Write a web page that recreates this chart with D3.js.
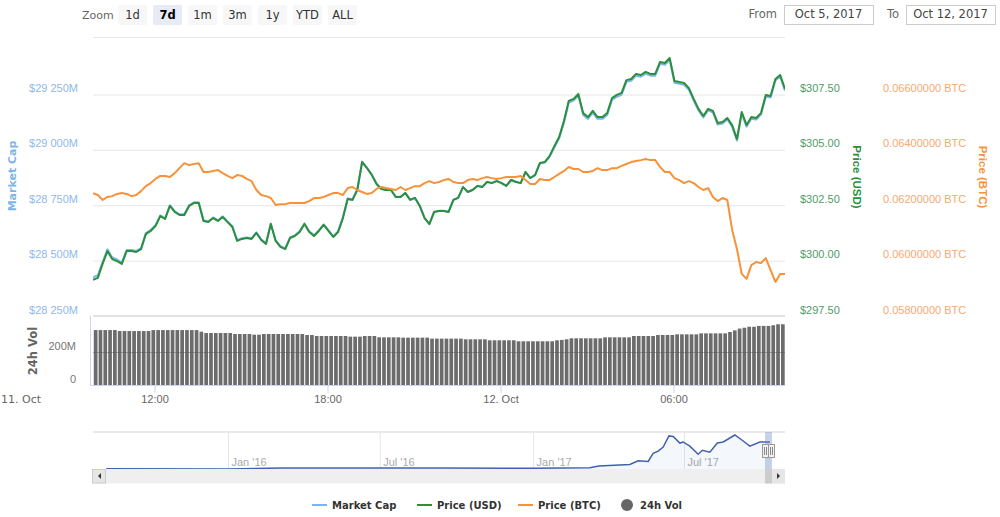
<!DOCTYPE html>
<html>
<head>
<meta charset="utf-8">
<style>
  html, body { margin: 0; padding: 0; background: #fff; }
  svg { display: block; font-family: "DejaVu Sans", sans-serif; }
  .domain { display: none; }
</style>
<script src="https://d3js.org/d3.v7.min.js"></script>
</head>
<body>
<svg id="chart" width="1000" height="517"></svg>
<script>
// values, one point every 10 minutes
const priceUsd = [
  299.13,299.22,299.85,300.43,300.07,299.98,299.85,300.43,300.43,300.39,
  300.52,301.20,301.34,301.56,302.01,301.88,302.47,302.20,302.06,302.06,
  302.47,302.60,302.60,301.79,301.74,301.92,301.79,301.97,301.74,301.52,
  300.89,300.98,301.02,300.98,301.25,300.93,300.75,301.65,300.89,300.62,
  300.52,301.02,301.11,301.29,301.65,301.29,301.11,301.34,301.61,301.34,
  301.07,301.29,301.92,302.78,302.74,303.19,304.45,304.18,303.87,303.46,
  303.23,303.19,303.19,302.87,302.87,303.05,302.74,302.83,302.47,301.92,
  301.65,302.20,302.24,302.24,302.20,302.74,302.83,303.32,303.10,303.19,
  303.37,303.32,303.55,303.50,303.59,303.50,303.37,303.64,303.55,303.50,
  304.00,303.73,303.87,304.41,304.45,304.72,305.17,305.58,306.30,307.21,
  307.30,307.52,306.66,306.48,306.76,306.48,306.48,306.66,307.34,307.48,
  307.57,308.15,308.20,308.43,308.38,308.52,308.43,308.43,308.97,308.92,
  309.15,308.11,308.06,308.02,307.79,307.30,306.85,306.53,306.85,306.76,
  306.21,306.26,306.44,306.12,305.49,306.71,306.12,306.48,306.44,306.66,
  307.48,307.43,308.20,308.38,307.75
];
const marketCap = [
  28425,28434,28493,28551,28514,28505,28491,28548,28548,28544,
  28556,28624,28638,28660,28704,28691,28750,28723,28709,28709,
  28750,28763,28763,28682,28677,28695,28682,28700,28677,28655,
  28592,28601,28605,28601,28628,28596,28578,28668,28592,28565,
  28555,28605,28614,28632,28668,28632,28614,28637,28664,28637,
  28610,28632,28695,28781,28777,28821,28947,28920,28889,28848,
  28824,28820,28820,28788,28788,28806,28775,28784,28748,28693,
  28666,28721,28725,28725,28721,28775,28784,28833,28811,28820,
  28838,28833,28856,28851,28860,28851,28838,28865,28856,28851,
  28901,28872,28885,28939,28943,28969,29011,29052,29123,29214,
  29223,29244,29158,29140,29168,29140,29140,29158,29226,29240,
  29249,29307,29312,29335,29330,29344,29335,29335,29389,29384,
  29407,29303,29298,29294,29271,29222,29178,29146,29178,29169,
  29114,29119,29137,29105,29042,29164,29105,29141,29137,29159,
  29241,29236,29313,29331,29267
];
const priceBtc = [
  .06244,.06237,.06219,.06230,.06233,.06241,.06244,.06241,.06233,.06237,
  .06251,.06269,.06280,.06295,.06306,.06306,.06302,.06316,.06334,.06352,
  .06345,.06349,.06352,.06320,.06320,.06324,.06327,.06316,.06306,.06298,
  .06309,.06306,.06295,.06287,.06255,.06237,.06233,.06226,.06201,.06204,
  .06204,.06208,.06208,.06208,.06208,.06215,.06226,.06226,.06230,.06237,
  .06244,.06244,.06237,.06262,.06266,.06255,.06248,.06241,.06244,.06259,
  .06266,.06262,.06259,.06255,.06266,.06255,.06262,.06269,.06269,.06280,
  .06287,.06280,.06284,.06291,.06295,.06284,.06280,.06280,.06291,.06295,
  .06291,.06298,.06302,.06298,.06295,.06298,.06302,.06302,.06302,.06306,
  .06291,.06277,.06277,.06295,.06291,.06291,.06302,.06313,.06324,.06338,
  .06331,.06331,.06320,.06320,.06324,.06334,.06327,.06327,.06334,.06334,
  .06342,.06349,.06356,.06360,.06363,.06367,.06363,.06363,.06338,.06320,
  .06320,.06298,.06291,.06280,.06287,.06280,.06266,.06255,.06262,.06230,
  .06215,.06226,.06219,.06111,.06042,.05952,.05934,.05984,.05995,.05991,
  .06009,.05966,.05923,.05952,.05952
];
const volume24h = [
  333,333,333,333,333,327,327,327,327,327,
  327,327,333,333,333,333,333,333,333,333,
  333,333,323,315,315,315,315,315,315,309,
  309,309,309,305,305,309,309,309,309,309,
  309,309,309,309,303,303,297,297,297,297,
  297,297,297,293,293,293,297,297,297,289,
  289,289,289,289,287,287,287,287,287,287,
  281,281,281,281,281,281,281,277,277,277,
  277,277,271,271,271,271,271,271,265,265,
  265,265,265,265,265,265,271,273,277,283,
  283,283,283,283,283,283,289,289,289,289,
  289,289,297,297,297,297,297,303,303,303,
  303,307,307,307,307,307,313,313,313,313,
  313,313,321,331,342,347,353,353,358,358,
  358,362,368,368,368
];

const navDates = [
  "2015-08-08","2016-01-01","2016-03-05","2016-07-01","2016-09-10","2017-01-01",
  "2017-03-10","2017-03-21","2017-04-27","2017-05-07","2017-05-19","2017-05-25",
  "2017-05-31","2017-06-06","2017-06-13","2017-06-18","2017-06-26","2017-06-30",
  "2017-07-08","2017-07-18","2017-07-23","2017-08-01","2017-08-10","2017-08-17",
  "2017-08-31","2017-09-10","2017-09-18","2017-09-30","2017-10-12"
];
const navCap = [
  0.3,0.1,1.0,1.0,1.0,0.8,
  1.5,3.4,5.1,9.1,8.5,17.6,
  19.9,24.5,37,36.4,29,30.2,
  25.6,16.5,21,18.8,29,30.2,
  38,31.3,25.6,30.2,30.2
];

const capTicks = [28250, 28500, 28750, 29000, 29250];
const usdTicks = [297.5, 300, 302.5, 305, 307.5];
const btcTicks = [0.058, 0.06, 0.062, 0.064, 0.066];
const volTicks = [0, 200];
const timeTicks = ["2017-10-11T12:00Z", "2017-10-11T18:00Z", "2017-10-12T00:00Z", "2017-10-12T06:00Z"];
const navTicks = ["2016-01-01", "2016-07-01", "2017-01-01", "2017-07-01"];
const zoomLabels = ["1d", "7d", "1m", "3m", "1y", "YTD", "ALL"];
const legendLabels = ["Market Cap", "Price (USD)", "Price (BTC)", "24h Vol"];

const colors = { cap: "#7cb5ec", usd: "#2b8f3c", btc: "#f7923a", vol: "#666666", grid: "#e6e6e6" };

const left = 93, right = 785, mainTop = 37.5, mainBottom = 316, volBottom = 385;

const svg = d3.select("#chart");

const startTime = Date.UTC(2017, 9, 11, 9, 52);
const times = priceUsd.map((d, i) => new Date(startTime + i * 600000));

const x = d3.scaleUtc().domain([times[0], times[times.length - 1]]).range([left, right]);

// all three share the same tick rows, so each scale is pinned to its own ticks
const yCap = d3.scaleLinear().domain([28250, 29250]).range([mainBottom, 94.5]);
const yUsd = d3.scaleLinear().domain([297.5, 307.5]).range([mainBottom, 94.5]);
const yBtc = d3.scaleLinear().domain([0.058, 0.066]).range([mainBottom, 94.5]);
const yVol = d3.scaleLinear().domain([0, 200]).range([volBottom, 352]);

svg.append("defs").append("clipPath").attr("id", "plot")
  .append("rect").attr("x", left).attr("y", 30).attr("width", right - left).attr("height", 360);

// grid + left axis
const capAxis = svg.append("g")
  .attr("transform", `translate(${left},0)`)
  .call(d3.axisLeft(yCap).tickValues(capTicks).tickSize(-(right - left)).tickPadding(15)
    .tickFormat((d) => "$" + d3.format("d")(d).replace(/(\d{2})(\d{3})/, "$1 $2") + "M"));
capAxis.selectAll("line").attr("stroke", colors.grid);
capAxis.selectAll("text").attr("fill", "#8fb8e8").attr("font-size", 11).attr("y", -6.5).attr("dy", "0.32em");

svg.append("line").attr("x1", left).attr("x2", right).attr("y1", mainTop).attr("y2", mainTop).attr("stroke", colors.grid);
svg.append("line").attr("x1", left).attr("x2", right).attr("y1", mainBottom).attr("y2", mainBottom)
  .attr("stroke", "#e2e2e2").attr("stroke-width", 2);

// right axes, labels only
const usdAxis = svg.append("g")
  .attr("transform", "translate(800,0)")
  .call(d3.axisRight(yUsd).tickValues(usdTicks).tickSize(0).tickPadding(0).tickFormat((d) => "$" + d3.format(".2f")(d)));
usdAxis.selectAll("text").attr("fill", "#4f9d68").attr("font-size", 11).attr("y", -6.5).attr("dy", "0.32em");

const btcAxis = svg.append("g")
  .attr("transform", "translate(883,0)")
  .call(d3.axisRight(yBtc).tickValues(btcTicks).tickSize(0).tickPadding(0).tickFormat((d) => d3.format(".8f")(d) + " BTC"));
btcAxis.selectAll("text").attr("fill", "#f8a873").attr("font-size", 11).attr("y", -6.5).attr("dy", "0.32em");

// volume
svg.append("line").attr("x1", 90.5).attr("x2", 90.5).attr("y1", mainBottom).attr("y2", volBottom).attr("stroke", "#ccd6eb");

svg.append("g").attr("clip-path", "url(#plot)")
  .selectAll("rect").data(volume24h).join("rect")
  .attr("x", (d, i) => x(times[i]) + 0.8)
  .attr("width", 3.7)
  .attr("y", (d) => yVol(d))
  .attr("height", (d) => volBottom - yVol(d))
  .attr("fill", colors.vol)
  .attr("fill-opacity", 0.96);

// axis goes after the bars, the 200M line shows through them
const volAxis = svg.append("g")
  .attr("transform", `translate(${left},0)`)
  .call(d3.axisLeft(yVol).tickValues(volTicks).tickSize(-(right - left)).tickPadding(17).tickFormat((d) => (d ? d + "M" : "0")));
volAxis.selectAll("line").attr("stroke", "#555").attr("stroke-opacity", 0.45);
volAxis.selectAll("text").attr("fill", "#777").attr("font-size", 11).attr("y", -6).attr("dy", "0.32em");

// time axis
const timeAxis = svg.append("g")
  .attr("transform", `translate(0,${volBottom})`)
  .call(d3.axisBottom(x).tickValues(timeTicks.map((d) => new Date(d))).tickSize(8).tickPadding(2)
    .tickFormat((d) => (d.getUTCHours() === 0 ? d3.utcFormat("%-d. %b")(d) : d3.utcFormat("%H:%M")(d))));
timeAxis.selectAll("line").attr("stroke", "#ccd6eb");
timeAxis.selectAll("text").attr("fill", "#666").attr("font-size", 11);
svg.append("line").attr("x1", 90).attr("x2", right).attr("y1", volBottom + 0.5).attr("y2", volBottom + 0.5).attr("stroke", "#ccd6eb");
svg.append("text").attr("x", 1).attr("y", 403).attr("fill", "#666").attr("font-size", 11).text("11. Oct");

// lines
const lineOf = (scale) => d3.line().x((d, i) => x(times[i])).y((d) => scale(d));
const plot = svg.append("g").attr("clip-path", "url(#plot)").attr("fill", "none").attr("stroke-width", 2).attr("stroke-linejoin", "round");
plot.append("path").datum(marketCap).attr("stroke", colors.cap).attr("d", lineOf(yCap));
plot.append("path").datum(priceUsd).attr("stroke", colors.usd).attr("d", lineOf(yUsd));
plot.append("path").datum(priceBtc).attr("stroke", colors.btc).attr("d", lineOf(yBtc));

// axis titles
const rotated = (tx, ty, angle, label, color, font, size) =>
  svg.append("text").attr("transform", `translate(${tx},${ty}) rotate(${angle})`)
    .attr("text-anchor", "middle").attr("font-family", font).attr("font-size", size).attr("font-weight", "bold").attr("fill", color).text(label);
rotated(16, 176, -90, "Market Cap", "#7cb5ec", "DejaVu Sans", 11);
rotated(37, 351, -90, "24h Vol", "#666", "DejaVu Sans", 11.5);
rotated(853, 177, 90, "Price (USD)", colors.usd, "Liberation Sans", 11.5);
rotated(979, 177, 90, "Price (BTC)", colors.btc, "Liberation Sans", 11.5);

// range selector
svg.append("text").attr("x", 82).attr("y", 19).attr("font-size", 11).attr("fill", "#666").text("Zoom");
const btn = svg.append("g").selectAll("g").data(zoomLabels).join("g")
  .attr("transform", (d, i) => `translate(${118 + i * 35},5)`);
btn.append("rect").attr("width", 29).attr("height", 20).attr("rx", 2)
  .attr("fill", (d) => (d === "7d" ? "#e6ebf5" : "#f7f7f7"));
btn.append("text").attr("x", 14.5).attr("y", 14).attr("text-anchor", "middle").attr("font-size", 11.5)
  .attr("font-weight", (d) => (d === "7d" ? "bold" : "normal"))
  .attr("fill", (d) => (d === "7d" ? "#000" : "#333")).text((d) => d);

const dateBox = (bx, w, label, value) => {
  svg.append("text").attr("x", bx - 7).attr("y", 18).attr("text-anchor", "end").attr("font-size", 11.5).attr("fill", "#666").text(label);
  svg.append("rect").attr("x", bx + 0.5).attr("y", 5.5).attr("width", w).attr("height", 19).attr("fill", "#fff").attr("stroke", "#ccc");
  svg.append("text").attr("x", bx + w / 2).attr("y", 18).attr("text-anchor", "middle").attr("font-size", 11.5).attr("fill", "#444").text(value);
};
dateBox(784, 89, "From", "Oct 5, 2017");
dateBox(906, 89, "To", "Oct 12, 2017");

// navigator
const navTop = 432, navBottom = 469;
const navX = d3.scaleUtc().domain([new Date("2016-01-01"), new Date("2017-07-01")]).range([228, 684]);
const navY = d3.scaleLinear().domain([0, 38]).range([469, 435]);
const navPoints = navDates.map((d, i) => [new Date(d), navCap[i]]);

svg.append("line").attr("x1", left).attr("x2", right).attr("y1", navTop).attr("y2", navTop)
  .attr("stroke", "#e2e2e2").attr("stroke-width", 1.5);

const navAxis = svg.append("g")
  .attr("transform", `translate(0,${navBottom})`)
  .call(d3.axisTop(navX).tickValues(navTicks.map((d) => new Date(d))).tickSize(navBottom - navTop).tickFormat(d3.utcFormat("%b '%y")));
navAxis.selectAll("line").attr("stroke", "#e6e6e6");
navAxis.selectAll("text").attr("y", -3).attr("x", 3).attr("dy", 0).attr("text-anchor", "start").attr("font-size", 11).attr("fill", "#aaa");

svg.append("path").datum(navPoints).attr("fill", "#4a6fc0").attr("fill-opacity", 0.06)
  .attr("d", d3.area().x((d) => navX(d[0])).y0(navBottom).y1((d) => navY(d[1])));
svg.append("path").datum(navPoints).attr("fill", "none").attr("stroke", "#4060b0").attr("stroke-width", 1.5)
  .attr("d", d3.line().x((d) => navX(d[0])).y((d) => navY(d[1])));

// selected window + scrollbar
svg.append("rect").attr("x", 765).attr("y", navTop).attr("width", 7).attr("height", navBottom - navTop).attr("fill", "#667fc0").attr("fill-opacity", 0.35);
svg.append("rect").attr("x", 92).attr("y", navBottom).attr("width", right - 92).attr("height", 14.5).attr("fill", "#efefef");
svg.append("rect").attr("x", 92.5).attr("y", navBottom + 0.5).attr("width", 13).attr("height", 13.5).attr("fill", "#e6e6e6").attr("stroke", "#ccc");
svg.append("rect").attr("x", 765).attr("y", navBottom).attr("width", 7).attr("height", 14.5).attr("fill", "#cccccc");
svg.append("rect").attr("x", 772).attr("y", navBottom).attr("width", 13).attr("height", 14.5).attr("fill", "#e6e6e6");
svg.append("path").attr("d", "M101,473L98,476L101,479Z").attr("fill", "#333");
svg.append("path").attr("d", "M777,473L780,476L777,479Z").attr("fill", "#333");

[762.5, 768.5].forEach((hx) => {
  svg.append("rect").attr("x", hx).attr("y", 444.5).attr("width", 6).attr("height", 13).attr("fill", "#f2f2f2").attr("stroke", "#999");
  svg.append("line").attr("x1", hx + 2).attr("x2", hx + 2).attr("y1", 447).attr("y2", 455).attr("stroke", "#888");
  svg.append("line").attr("x1", hx + 4).attr("x2", hx + 4).attr("y1", 447).attr("y2", 455).attr("stroke", "#888");
});

// legend
const legendY = 505;
const legendX = [312, 417, 518, 621];
const legendColors = [colors.cap, colors.usd, colors.btc, colors.vol];
legendLabels.forEach((label, i) => {
  if (i < 3) {
    svg.append("line").attr("x1", legendX[i]).attr("x2", legendX[i] + 15).attr("y1", legendY).attr("y2", legendY)
      .attr("stroke", legendColors[i]).attr("stroke-width", 2);
  } else {
    svg.append("circle").attr("cx", legendX[i] + 6).attr("cy", legendY).attr("r", 6).attr("fill", legendColors[i]);
  }
  svg.append("text").attr("x", legendX[i] + (i < 3 ? 20 : 19)).attr("y", legendY + 4).attr("font-size", 10).attr("font-weight", "bold").attr("fill", "#333").text(label);
});
</script>
</body>
</html>
